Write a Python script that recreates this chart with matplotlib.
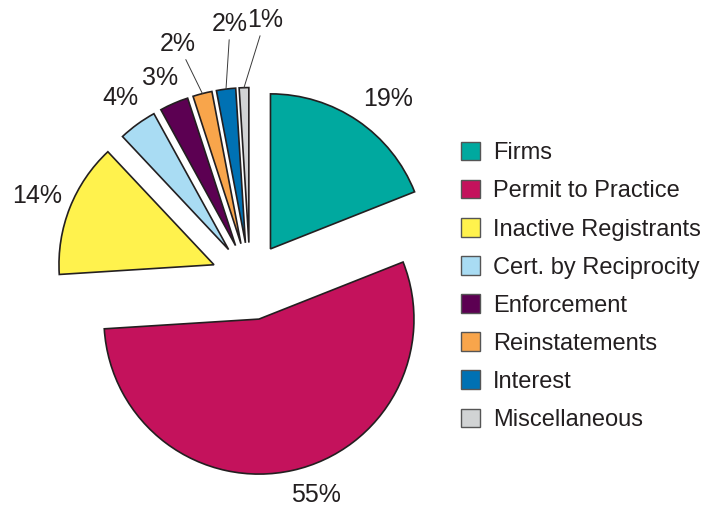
import numpy as np
import matplotlib
matplotlib.use("Agg")
import matplotlib.pyplot as plt

plt.rcParams['font.family'] = ['Liberation Sans', 'DejaVu Sans']

# data
categories = ['Firms', 'Permit to Practice', 'Inactive Registrants', 'Cert. by Reciprocity',
              'Enforcement', 'Reinstatements', 'Interest', 'Miscellaneous']
shares = [19, 55, 14, 4, 3, 2, 2, 1]
pct_labels = ['19%', '55%', '14%', '4%', '3%', '2%', '2%', '1%']

colors = ['#00a99f', '#c4125c', '#fff24d', '#a9dcf3', '#5c0052', '#f8a54b', '#0071b3', '#d1d3d4']
explode = [0.235, 0.265, 0.25, 0.235, 0.235, 0.235, 0.235, 0.235]
# label placement: distance from centre and angular tweak (deg)
lab_dist = [1.47, 1.445, 1.477, 1.443, 1.427, 1.598, 1.663, 1.686]
lab_shift = [-3.0, 4.5, 0.0, -0.5, 0.6, 2.5, -2.8, -5.1]
leader = [False, False, False, False, False, True, True, True]

ink = '#231f20'

fig = plt.figure(figsize=(7.21, 5.08), dpi=100)
ax = fig.add_axes([0, 0, 1, 1])

wedges, _ = ax.pie(shares, colors=colors, explode=explode, startangle=90,
                   counterclock=False, radius=1.0,
                   wedgeprops=dict(edgecolor=ink, linewidth=1.2))

for w, lab, d, s, ld, ex in zip(wedges, pct_labels, lab_dist, lab_shift, leader, explode):
    mid = 0.5 * (w.theta1 + w.theta2)
    a = np.deg2rad(mid + s)
    tx, ty = d * np.cos(a), d * np.sin(a) - 0.01
    if ld:
        m = np.deg2rad(mid)
        px, py = (ex + 1.0) * np.cos(m), (ex + 1.0) * np.sin(m)
        ax.annotate(lab, xy=(px, py), xytext=(tx, ty), ha='center', va='center',
                    fontsize=18, color=ink,
                    arrowprops=dict(arrowstyle='-', color='#3a3a3a', lw=0.7,
                                    shrinkA=1, shrinkB=0))
    else:
        ax.text(tx, ty, lab, ha='center', va='center', fontsize=18, color=ink)

# pie centre at (250, 279) px, 155 px per unit
ax.set_xlim(-250 / 155, (721 - 250) / 155)
ax.set_ylim(-(508 - 279) / 155, 279 / 155)
ax.set_aspect('equal')
ax.axis('off')

leg = ax.legend(wedges, categories, loc='upper left', bbox_to_anchor=(461 / 721, 1 - 142 / 508),
                frameon=False, fontsize=17, handlelength=0.82, handleheight=0.82,
                handletextpad=0.55, labelspacing=0.665, borderpad=0, borderaxespad=0)
for t in leg.get_texts():
    t.set_color(ink)
for h in leg.legend_handles:
    h.set_edgecolor('#555555')
    h.set_linewidth(1.0)

fig.savefig('out.png', dpi=100)
